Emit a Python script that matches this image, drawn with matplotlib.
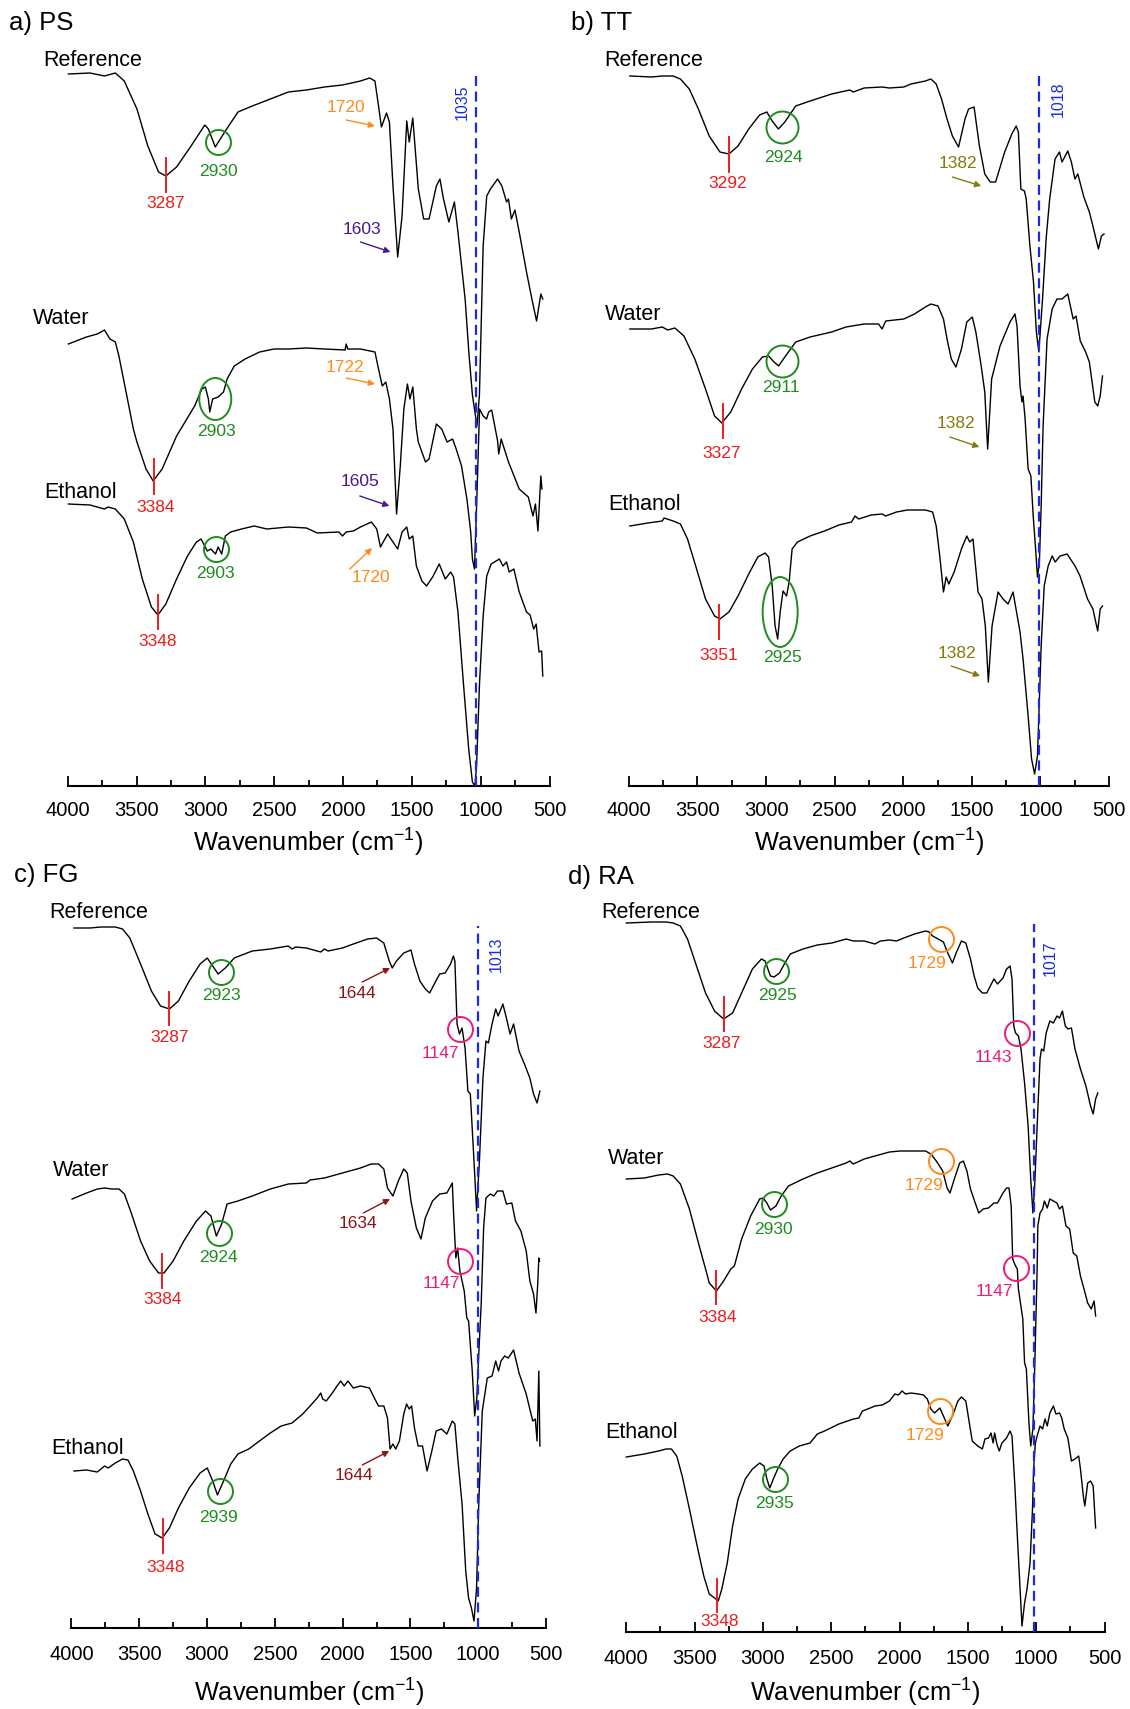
import matplotlib
matplotlib.use("Agg")
import matplotlib.pyplot as plt
from matplotlib.patches import Ellipse
from matplotlib.ticker import MultipleLocator

# FTIR spectra: (wavenumber cm-1, transmittance a.u. with offset)
ps_ref = [(3995, 712), (3838, 713), (3733, 710), (3654, 713), (3589, 705), (3497, 677), (3418, 640),
          (3340, 614), (3287, 610), (3209, 619), (3104, 640), (3004, 661), (2978, 657), (2928, 639),
          (2855, 655), (2763, 674), (2659, 680), (2528, 687), (2397, 694), (2266, 696), (2135, 699),
          (2004, 701), (1873, 705), (1807, 708), (1768, 705), (1742, 680), (1721, 659), (1684, 673),
          (1663, 664), (1637, 600), (1603, 529), (1571, 570), (1537, 665), (1519, 644), (1493, 668),
          (1453, 597), (1414, 567), (1375, 567), (1322, 600), (1296, 607), (1270, 587), (1231, 564),
          (1191, 584), (1165, 554), (1113, 487), (1085, 432), (1060, 391), (1027, 360), (1009, 391),
          (982, 540), (956, 590), (929, 597), (877, 607), (846, 600), (812, 584), (798, 587),
          (777, 567), (751, 576), (720, 554), (667, 514), (628, 487), (594, 465), (563, 492), (549, 487)]
ps_water = [(3995, 442), (3864, 449), (3785, 452), (3733, 456), (3693, 447), (3654, 444), (3628, 430),
            (3576, 394), (3523, 357), (3497, 344), (3431, 317), (3379, 305), (3314, 317), (3209, 350),
            (3078, 380), (3025, 397), (3000, 399), (2978, 387), (2968, 374), (2947, 387), (2907, 389),
            (2868, 394), (2842, 407), (2790, 420), (2711, 427), (2606, 434), (2501, 437), (2397, 437),
            (2266, 438), (2135, 437), (1985, 436), (1977, 442), (1965, 437), (1873, 437), (1768, 434),
            (1742, 417), (1715, 400), (1689, 404), (1663, 387), (1637, 357), (1611, 272), (1584, 320),
            (1558, 377), (1532, 402), (1514, 387), (1493, 399), (1467, 357), (1453, 344), (1401, 324),
            (1375, 327), (1322, 362), (1283, 357), (1244, 344), (1204, 347), (1178, 337), (1139, 320),
            (1100, 287), (1073, 255), (1060, 227), (1045, 217), (1025, 300), (1008, 377), (982, 370),
            (957, 367), (942, 374), (920, 376), (877, 345), (869, 332), (851, 347), (798, 324),
            (772, 315), (720, 297), (654, 289), (620, 270), (602, 282), (584, 255), (563, 310), (555, 297)]
ps_eth = [(3995, 282), (3838, 281), (3733, 277), (3707, 279), (3654, 277), (3589, 267), (3523, 244),
          (3458, 207), (3392, 179), (3345, 171), (3287, 182), (3209, 207), (3130, 230), (3065, 244),
          (3031, 247), (2986, 235), (2960, 237), (2926, 232), (2907, 239), (2881, 232), (2855, 250),
          (2816, 254), (2737, 257), (2645, 260), (2554, 257), (2397, 259), (2266, 258), (2187, 253),
          (2030, 254), (2004, 250), (1977, 254), (1925, 255), (1873, 259), (1794, 264), (1755, 257),
          (1728, 239), (1676, 252), (1637, 244), (1603, 237), (1571, 254), (1537, 259), (1519, 247),
          (1493, 250), (1467, 220), (1427, 205), (1393, 200), (1349, 209), (1301, 222), (1257, 207),
          (1218, 214), (1197, 209), (1165, 174), (1126, 104), (1087, 37), (1060, 4), (1042, 0),
          (1030, 20), (1008, 104), (982, 170), (956, 210), (924, 222), (864, 227), (838, 220),
          (812, 224), (793, 214), (759, 217), (720, 194), (667, 174), (641, 171), (615, 157),
          (597, 162), (576, 134), (557, 135), (549, 110)]

tt_ref = [(3992, 710), (3835, 709), (3756, 710), (3677, 710), (3624, 707), (3559, 697), (3493, 677),
          (3414, 650), (3336, 634), (3270, 632), (3204, 640), (3126, 657), (3047, 671), (2994, 674),
          (2955, 665), (2910, 657), (2863, 664), (2784, 680), (2679, 685), (2522, 692), (2390, 696),
          (2364, 694), (2285, 698), (2154, 699), (2101, 698), (1996, 699), (1944, 702), (1839, 705),
          (1799, 707), (1760, 702), (1721, 687), (1681, 667), (1642, 650), (1597, 639), (1550, 667),
          (1524, 677), (1484, 679), (1445, 640), (1406, 612), (1366, 604), (1327, 604), (1261, 634),
          (1209, 652), (1177, 660), (1161, 654), (1143, 597), (1117, 595), (1104, 587), (1077, 540),
          (1051, 504), (1030, 454), (1012, 434), (985, 487), (959, 547), (933, 587), (894, 627),
          (862, 634), (843, 624), (801, 635), (775, 624), (749, 607), (728, 612), (684, 589),
          (644, 574), (618, 560), (578, 537), (556, 550), (537, 552)]
tt_water = [(3992, 457), (3835, 457), (3756, 459), (3716, 456), (3664, 458), (3598, 450), (3519, 427),
            (3441, 397), (3375, 370), (3322, 363), (3257, 374), (3178, 397), (3099, 417), (3026, 429),
            (2981, 430), (2942, 424), (2908, 420), (2863, 429), (2784, 444), (2679, 449), (2522, 454),
            (2417, 459), (2285, 462), (2180, 462), (2154, 457), (2128, 465), (1996, 467), (1918, 472),
            (1839, 479), (1799, 482), (1747, 480), (1707, 467), (1681, 447), (1650, 427), (1616, 419),
            (1576, 437), (1537, 464), (1497, 469), (1471, 454), (1432, 420), (1406, 394), (1385, 337),
            (1356, 407), (1295, 440), (1222, 464), (1186, 472), (1171, 460), (1149, 400), (1135, 384),
            (1127, 390), (1112, 367), (1090, 317), (1070, 310), (1053, 270), (1034, 234), (1022, 209),
            (1008, 224), (995, 280), (981, 360), (952, 447), (915, 477), (880, 487), (843, 487),
            (801, 492), (762, 467), (741, 470), (710, 445), (671, 434), (644, 424), (604, 384),
            (583, 380), (565, 390), (548, 410)]
tt_eth = [(3992, 260), (3861, 263), (3756, 265), (3743, 268), (3677, 265), (3624, 262), (3572, 247),
          (3506, 217), (3441, 187), (3375, 170), (3336, 167), (3270, 174), (3204, 190), (3126, 212),
          (3060, 229), (3007, 233), (2981, 229), (2955, 200), (2934, 160), (2915, 147), (2897, 174),
          (2876, 195), (2850, 190), (2831, 205), (2810, 237), (2771, 244), (2679, 250), (2574, 255),
          (2469, 261), (2377, 264), (2351, 270), (2325, 267), (2233, 271), (2154, 272), (2128, 270),
          (2049, 274), (1970, 276), (1918, 276), (1839, 276), (1786, 274), (1760, 260), (1734, 230),
          (1707, 194), (1687, 209), (1668, 202), (1629, 214), (1576, 237), (1537, 250), (1516, 244),
          (1492, 247), (1455, 194), (1426, 187), (1402, 160), (1380, 104), (1353, 160), (1309, 194),
          (1273, 187), (1236, 182), (1200, 194), (1149, 154), (1127, 127), (1090, 70), (1065, 27),
          (1043, 12), (1022, 30), (1008, 87), (995, 140), (973, 200), (944, 220), (915, 230),
          (893, 224), (857, 230), (806, 232), (748, 220), (712, 210), (657, 187), (618, 177),
          (583, 155), (565, 177), (548, 180)]

fg_ref = [(3981, 700), (3862, 700), (3782, 701), (3676, 701), (3623, 699), (3569, 690), (3490, 664),
          (3410, 637), (3343, 622), (3277, 619), (3211, 627), (3131, 647), (3051, 664), (2998, 670),
          (2958, 662), (2918, 654), (2865, 660), (2799, 670), (2666, 677), (2533, 679), (2400, 682),
          (2373, 679), (2347, 681), (2267, 680), (2161, 676), (2134, 679), (2107, 677), (2001, 680),
          (1921, 684), (1815, 689), (1749, 690), (1696, 685), (1656, 667), (1634, 660), (1603, 667),
          (1549, 675), (1496, 678), (1470, 664), (1430, 647), (1390, 639), (1358, 635), (1324, 644),
          (1284, 654), (1244, 655), (1204, 664), (1183, 672), (1172, 667), (1156, 604), (1138, 594),
          (1119, 600), (1097, 580), (1076, 537), (1058, 534), (1031, 467), (1012, 417), (991, 467),
          (965, 550), (943, 587), (925, 585), (898, 604), (871, 619), (853, 612), (818, 624),
          (792, 610), (765, 594), (739, 604), (699, 577), (659, 564), (619, 550), (592, 534),
          (566, 525), (545, 537)]
fg_water = [(3995, 429), (3888, 435), (3809, 439), (3755, 440), (3702, 439), (3649, 439), (3609, 434),
            (3556, 414), (3490, 387), (3423, 367), (3357, 355), (3317, 355), (3250, 367), (3171, 387),
            (3078, 407), (3011, 417), (2971, 412), (2931, 392), (2892, 404), (2852, 424), (2772, 427),
            (2666, 432), (2533, 439), (2400, 444), (2267, 445), (2240, 448), (2134, 450), (2028, 454),
            (1948, 457), (1868, 460), (1789, 464), (1735, 464), (1696, 459), (1669, 440), (1629, 432),
            (1589, 447), (1549, 459), (1523, 455), (1496, 427), (1456, 400), (1422, 389), (1390, 410),
            (1337, 427), (1284, 434), (1231, 435), (1191, 445), (1180, 410), (1165, 370), (1152, 380),
            (1135, 357), (1103, 337), (1084, 310), (1071, 307), (1044, 257), (1026, 212), (1010, 230),
            (996, 274), (978, 324), (960, 400), (943, 430), (911, 434), (885, 432), (858, 437),
            (818, 437), (792, 424), (752, 425), (725, 407), (685, 397), (646, 377), (619, 347),
            (592, 334), (574, 315), (561, 344), (553, 370), (548, 367)]
fg_eth = [(3981, 157), (3888, 158), (3809, 156), (3755, 162), (3729, 160), (3676, 165), (3623, 169),
          (3583, 168), (3543, 157), (3490, 137), (3436, 114), (3383, 94), (3330, 90), (3277, 100),
          (3211, 120), (3131, 140), (3051, 155), (2998, 160), (2958, 147), (2923, 133), (2878, 147),
          (2825, 164), (2772, 174), (2692, 179), (2613, 187), (2533, 195), (2453, 202), (2373, 205),
          (2294, 214), (2240, 222), (2187, 230), (2161, 235), (2147, 229), (2121, 227), (2081, 234),
          (2041, 242), (2014, 247), (1988, 242), (1961, 247), (1921, 240), (1868, 242), (1802, 240),
          (1762, 229), (1735, 222), (1696, 222), (1669, 210), (1650, 179), (1629, 184), (1608, 179),
          (1581, 187), (1549, 214), (1528, 224), (1509, 219), (1491, 222), (1470, 200), (1443, 182),
          (1411, 182), (1377, 157), (1342, 177), (1310, 197), (1271, 199), (1231, 194), (1191, 207),
          (1172, 204), (1151, 170), (1119, 124), (1092, 57), (1071, 30), (1050, 20), (1031, 7),
          (1012, 40), (996, 124), (970, 217), (933, 250), (898, 252), (871, 267), (850, 257),
          (832, 267), (805, 272), (778, 270), (739, 278), (699, 255), (646, 234), (598, 207),
          (579, 209), (566, 187), (553, 257), (545, 182)]

ra_ref = [(4000, 709), (3815, 710), (3710, 710), (3657, 709), (3604, 706), (3552, 693), (3486, 666),
          (3420, 639), (3354, 621), (3288, 613), (3222, 619), (3143, 643), (3077, 663), (3011, 673),
          (2984, 671), (2945, 656), (2918, 655), (2879, 659), (2839, 669), (2800, 678), (2707, 683),
          (2602, 687), (2496, 689), (2391, 693), (2338, 691), (2259, 691), (2180, 688), (2140, 691),
          (2074, 692), (2022, 691), (1969, 694), (1890, 698), (1810, 701), (1784, 700), (1758, 696),
          (1718, 693), (1679, 690), (1647, 679), (1613, 669), (1586, 679), (1547, 691), (1515, 689),
          (1481, 673), (1454, 656), (1428, 644), (1394, 639), (1362, 639), (1336, 646), (1309, 653),
          (1283, 648), (1243, 654), (1217, 663), (1191, 666), (1177, 653), (1164, 606), (1151, 599),
          (1130, 596), (1111, 583), (1085, 549), (1059, 506), (1040, 453), (1024, 419), (1011, 446),
          (993, 506), (972, 573), (961, 583), (945, 581), (927, 599), (900, 611), (874, 609),
          (848, 616), (829, 614), (808, 621), (787, 606), (768, 603), (742, 604), (716, 583),
          (676, 563), (636, 546), (602, 526), (583, 518), (565, 533), (549, 539)]
ra_water = [(4000, 453), (3868, 454), (3763, 457), (3697, 458), (3657, 456), (3604, 448), (3538, 423),
            (3472, 389), (3406, 356), (3393, 349), (3340, 341), (3288, 351), (3235, 363), (3209, 366),
            (3156, 393), (3090, 416), (3024, 433), (2998, 434), (2971, 429), (2945, 422), (2905, 426),
            (2866, 436), (2813, 446), (2707, 453), (2602, 459), (2496, 464), (2391, 469), (2364, 471),
            (2338, 468), (2259, 473), (2180, 476), (2127, 478), (2074, 480), (1995, 481), (1916, 481),
            (1810, 481), (1771, 478), (1731, 471), (1684, 461), (1652, 444), (1631, 439), (1599, 453),
            (1560, 469), (1533, 471), (1507, 461), (1481, 443), (1446, 429), (1420, 419), (1388, 423),
            (1349, 424), (1309, 429), (1283, 429), (1243, 439), (1217, 444), (1199, 444), (1183, 426),
            (1172, 373), (1151, 366), (1138, 363), (1130, 343), (1098, 313), (1085, 269), (1072, 263),
            (1053, 209), (1040, 186), (1024, 203), (1011, 263), (993, 363), (988, 406), (972, 419),
            (953, 423), (940, 431), (919, 424), (900, 433), (874, 431), (848, 429), (829, 423),
            (808, 426), (782, 406), (755, 403), (729, 379), (703, 376), (676, 356), (650, 343),
            (623, 329), (597, 323), (576, 331), (565, 316)]
ra_eth = [(4000, 175), (3868, 178), (3763, 181), (3710, 183), (3670, 183), (3631, 176), (3591, 156),
          (3538, 123), (3486, 89), (3433, 56), (3393, 38), (3354, 34), (3327, 31), (3301, 43),
          (3261, 69), (3222, 106), (3182, 133), (3129, 153), (3077, 163), (3024, 169), (2992, 166),
          (2971, 153), (2950, 144), (2924, 153), (2892, 163), (2852, 173), (2800, 181), (2734, 186),
          (2655, 189), (2602, 198), (2549, 201), (2444, 208), (2338, 213), (2298, 214), (2272, 221),
          (2233, 223), (2180, 226), (2127, 227), (2074, 231), (2035, 238), (2008, 237), (1982, 241),
          (1956, 238), (1916, 239), (1863, 238), (1824, 237), (1797, 233), (1771, 223), (1744, 219),
          (1705, 224), (1679, 216), (1647, 206), (1613, 216), (1573, 231), (1547, 235), (1515, 231),
          (1494, 213), (1468, 191), (1428, 186), (1394, 183), (1375, 193), (1349, 194), (1331, 199),
          (1315, 189), (1304, 199), (1288, 188), (1270, 181), (1251, 189), (1217, 194), (1191, 201),
          (1177, 196), (1156, 146), (1138, 96), (1119, 46), (1104, 6), (1085, 29), (1067, 43),
          (1045, 69), (1027, 123), (1019, 163), (1006, 189), (993, 196), (972, 206), (953, 203),
          (935, 213), (919, 206), (900, 219), (874, 226), (855, 218), (829, 219), (813, 214),
          (795, 203), (768, 194), (742, 171), (716, 173), (689, 176), (676, 163), (655, 136),
          (644, 126), (623, 149), (602, 151), (583, 146), (565, 104)]

sample_names = ["Reference", "Water", "Ethanol"]
xticks = [4000, 3500, 3000, 2500, 2000, 1500, 1000, 500]

RED = "#ee1c1c"
GREEN = "#1e8c1e"
ORANGE = "#ff8a1c"
PURPLE = "#4c168c"
OLIVE = "#857a0f"
DKRED = "#8c1515"
PINK = "#ee1a78"
BLUE = "#1a2ae0"
NUM_FS = 12.5

plt.rcParams["font.family"] = ["Liberation Sans", "DejaVu Sans"]
plt.rcParams["mathtext.fontset"] = "custom"
plt.rcParams["mathtext.rm"] = "Liberation Sans"
plt.rcParams["mathtext.default"] = "regular"

W, H = 1130, 1709
PANEL_H = 730
fig = plt.figure(figsize=(W / 100, H / 100), dpi=100)


def make_panel(left, right, base, pad, title, title_xy, xlabel_y):
    ax = fig.add_axes([left / W, 1 - base / H, (right - left) / W, PANEL_H / H])
    ax.set_xlim(4000, 500)
    ax.set_ylim(0, PANEL_H)
    ax.patch.set_visible(False)
    for s in ("top", "left", "right"):
        ax.spines[s].set_visible(False)
    ax.spines["bottom"].set_linewidth(1.5)
    ax.set_xticks(xticks)
    ax.xaxis.set_minor_locator(MultipleLocator(250))
    ax.tick_params(axis="x", which="major", direction="in", length=7, width=1.3,
                   labelsize=14.5, pad=pad)
    ax.tick_params(axis="x", which="minor", direction="in", length=4, width=1.3)
    ax.tick_params(axis="y", left=False, labelleft=False)
    fig.text(title_xy[0] / W, 1 - title_xy[1] / H, title, fontsize=18.5, ha="left", va="center")
    fig.text((left + right) / 2 / W, 1 - xlabel_y / H, "Wavenumber (cm$^{-1}$)",
             fontsize=18.3, ha="center", va="center")
    ax.px_wn = 3500 / (right - left)
    return ax


def spectra(ax, traces, name_pos):
    for pts, name, (nx, ny) in zip(traces, sample_names, name_pos):
        wn, t = zip(*pts)
        ax.plot(wn, t, color="black", lw=1.0, clip_on=False, zorder=2)
        ax.text(nx, ny, name, fontsize=15.5, ha="left", va="center")


def oh_band(ax, wn, y0, y1, text, tx, ty):
    ax.plot([wn, wn], [y0, y1], color=RED, lw=1.4, zorder=3)
    ax.text(tx, ty, text, color=RED, fontsize=NUM_FS, ha="center", va="center")


def ring(ax, wn, y, color, text=None, tx=None, ty=None, d=25):
    ax.plot([wn], [y], "o", ms=d * 0.72, mfc="none", mec=color, mew=1.4, zorder=3)
    if text:
        ax.text(tx, ty, text, color=color, fontsize=NUM_FS, ha="center", va="center")


def oval(ax, wn, y, w, h, color, text, tx, ty):
    ax.add_patch(Ellipse((wn, y), w * ax.px_wn, h, fill=False, ec=color, lw=1.4, zorder=3))
    ax.text(tx, ty, text, color=color, fontsize=NUM_FS, ha="center", va="center")


def pointer(ax, text, tx, ty, start, end, color):
    ax.text(tx, ty, text, color=color, fontsize=NUM_FS, ha="center", va="center")
    ax.annotate("", xy=end, xytext=start,
                arrowprops=dict(arrowstyle="-|>", color=color, lw=1.0,
                                shrinkA=0, shrinkB=0, mutation_scale=9))


def marker_line(ax, wn, top, text, tx, ty):
    ax.plot([wn, wn], [0, top], color=BLUE, lw=1.6, dashes=(4.5, 2.5), zorder=4, clip_on=False)
    ax.text(tx, ty, text, color=BLUE, fontsize=11.5, rotation=90, ha="center", va="center")


# a) PS
ax = make_panel(67.7, 549.5, 786, 11, "a) PS", (9, 23), 843)
spectra(ax, [ps_ref, ps_water, ps_eth], [(4178, 726), (4252, 468), (4173, 294)])
marker_line(ax, 1034, 714, "1035", 1131, 684)
oh_band(ax, 3287, 594, 628, "3287", 3287, 583)
ring(ax, 2907, 644, GREEN, "2930", 2907, 615)
pointer(ax, "1720", 1977, 679, (1977, 666), (1768, 660), ORANGE)
pointer(ax, "1603", 1859, 557, (1873, 544), (1655, 534), PURPLE)
oh_band(ax, 3371, 292, 327, "3384", 3365, 279)
oval(ax, 2928, 387, 32, 42, GREEN, "2903", 2921, 354)
pointer(ax, "1722", 1983, 419, (1977, 408), (1768, 402), ORANGE)
pointer(ax, "1605", 1878, 304, (1878, 290), (1663, 280), PURPLE)
ring(ax, 2926, 237, GREEN, "2903", 2926, 213)
pointer(ax, "1720", 1794, 208, (1951, 217), (1789, 238), ORANGE)
oh_band(ax, 3345, 157, 191, "3348", 3348, 145)

# b) TT
ax = make_panel(628.8, 1109.1, 786, 11, "b) TT", (571, 23), 843)
spectra(ax, [tt_ref, tt_water, tt_eth], [(4176, 726), (4176, 472), (4150, 282)])
marker_line(ax, 1008, 713, "1018", 867, 687)
oh_band(ax, 3270, 614, 649, "3292", 3283, 603)
ring(ax, 2881, 659, GREEN, "2924", 2876, 629, d=32)
pointer(ax, "1382", 1602, 623, (1642, 609), (1432, 600), OLIVE)
oh_band(ax, 3317, 348, 382, "3327", 3322, 333)
ring(ax, 2881, 425, GREEN, "2911", 2894, 399, d=32)
pointer(ax, "1382", 1616, 363, (1660, 349), (1445, 339), OLIVE)
oh_band(ax, 3341, 147, 181, "3351", 3341, 131)
oval(ax, 2897, 174, 35, 70, GREEN, "2925", 2881, 128)
pointer(ax, "1382", 1610, 133, (1650, 120), (1440, 110), OLIVE)

# c) FG
ax = make_panel(71.4, 546, 1628, 12, "c) FG", (14, 875), 1693)
spectra(ax, [fg_ref, fg_water, fg_eth], [(4167, 715), (4133, 457), (4146, 180)])
marker_line(ax, 1004, 702, "1013", 864, 674)
oh_band(ax, 3277, 603, 636, "3287", 3277, 591)
ring(ax, 2900, 656, GREEN, "2923", 2892, 632)
pointer(ax, "1644", 1895, 635, (1855, 646), (1650, 660), DKRED)
ring(ax, 1132, 599, PINK, "1147", 1278, 574)
oh_band(ax, 3330, 340, 374, "3384", 3325, 328)
ring(ax, 2910, 395, GREEN, "2924", 2918, 371)
pointer(ax, "1634", 1890, 404, (1847, 415), (1650, 429), DKRED)
ring(ax, 1137, 367, PINK, "1147", 1270, 344)
oh_band(ax, 3322, 75, 109, "3348", 3306, 60)
ring(ax, 2905, 137, GREEN, "2939", 2913, 110)
pointer(ax, "1644", 1916, 152, (1855, 163), (1656, 177), DKRED)

# d) RA
ax = make_panel(626.3, 1104.5, 1632, 12, "d) RA", (568, 877), 1693)
spectra(ax, [ra_ref, ra_water, ra_eth], [(4185, 720), (4137, 473), (4153, 199)])
marker_line(ax, 1019, 708, "1017", 900, 674)
oh_band(ax, 3288, 601, 635, "3287", 3301, 588)
ring(ax, 2905, 661, GREEN, "2925", 2897, 637)
ring(ax, 1700, 693, ORANGE, "1729", 1797, 668)
ring(ax, 1143, 599, PINK, "1143", 1314, 575)
oh_band(ax, 3340, 328, 361, "3384", 3332, 315)
ring(ax, 2918, 428, GREEN, "2930", 2926, 403)
ring(ax, 1700, 471, ORANGE, "1729", 1824, 447)
ring(ax, 1151, 364, PINK, "1147", 1304, 340)
ring(ax, 2910, 153, GREEN, "2935", 2918, 128)
ring(ax, 1705, 221, ORANGE, "1729", 1816, 197)
oh_band(ax, 3333, 20, 53, "3348", 3320, 11)

fig.savefig("out.png", dpi=100)
